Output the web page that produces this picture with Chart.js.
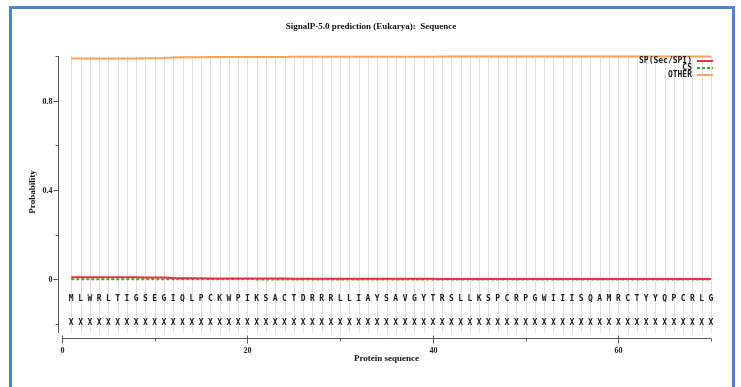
<!DOCTYPE html>
<html>
<head>
<meta charset="utf-8">
<script src="https://cdn.jsdelivr.net/npm/chart.js@4/dist/chart.umd.min.js"></script>
<style>
  html, body { margin: 0; padding: 0; background: #fff; }
  #wrap { position: relative; width: 741px; height: 387px; overflow: hidden; }
  #frame { position: absolute; left: 9px; top: 6px; width: 720px; height: 400px;
           border: 3px solid #4f83cc; border-bottom: none; pointer-events: none; }
</style>
</head>
<body>
<div id="wrap">
  <canvas id="myChart"></canvas>
  <div id="frame"></div>
</div>
<script>
  // Sequence + predictions (one value per residue)
  const residues = 'MLWRLTIGSEGIQLPCKWPIKSACTDRRRLLIAYSAVGYTRSLLKSPCRPGWIIISQAMRCTYYQPCRLG'.split('');
  const markers = residues.map(() => 'X');

  const sp = [
    0.010, 0.010, 0.010, 0.010, 0.010, 0.010, 0.010, 0.010, 0.009, 0.009,
    0.008, 0.006, 0.005, 0.005, 0.005, 0.004, 0.004, 0.004, 0.004, 0.004,
    0.004, 0.004, 0.004, 0.004, 0.003, 0.003, 0.003, 0.003, 0.003, 0.003,
    0.003, 0.003, 0.003, 0.003, 0.003, 0.003, 0.003, 0.003, 0.003, 0.003,
    0.002, 0.002, 0.002, 0.002, 0.002, 0.002, 0.002, 0.002, 0.002, 0.002,
    0.002, 0.002, 0.002, 0.002, 0.002, 0.002, 0.002, 0.002, 0.002, 0.002,
    0.002, 0.002, 0.002, 0.002, 0.002, 0.002, 0.002, 0.002, 0.002, 0.002
  ];
  const cs = [
    0.001, 0.001, 0.001, 0.001, 0.001, 0.001, 0.001, 0.001, 0.001, 0.001,
    0.001, 0.001, 0.001, 0.001, 0.001, 0.001, 0.001, 0.001, 0.001, 0.001,
    0.000, 0.000, 0.000, 0.000, 0.000, 0.000, 0.000, 0.000, 0.000, 0.000,
    0.000, 0.000, 0.000, 0.000, 0.000, 0.000, 0.000, 0.000, 0.000, 0.000,
    0.000, 0.000, 0.000, 0.000, 0.000, 0.000, 0.000, 0.000, 0.000, 0.000,
    0.000, 0.000, 0.000, 0.000, 0.000, 0.000, 0.000, 0.000, 0.000, 0.000,
    0.000, 0.000, 0.000, 0.000, 0.000, 0.000, 0.000, 0.000, 0.000, 0.000
  ];
  const other = [
    0.989, 0.989, 0.989, 0.989, 0.989, 0.989, 0.989, 0.989, 0.990, 0.990,
    0.991, 0.993, 0.994, 0.994, 0.994, 0.995, 0.995, 0.995, 0.995, 0.995,
    0.996, 0.996, 0.996, 0.996, 0.997, 0.997, 0.997, 0.997, 0.997, 0.997,
    0.997, 0.997, 0.997, 0.997, 0.997, 0.997, 0.997, 0.997, 0.997, 0.997,
    0.998, 0.998, 0.998, 0.998, 0.998, 0.998, 0.998, 0.998, 0.998, 0.998,
    0.998, 0.998, 0.998, 0.998, 0.998, 0.998, 0.998, 0.998, 0.998, 0.998,
    0.998, 0.998, 0.998, 0.998, 0.998, 0.998, 0.998, 0.998, 0.998, 0.998
  ];

  const xTicks = [0, 20, 40, 60];
  const xMinor = [10, 30, 50, 70];
  const yTicks = [0, 0.4, 0.8];
  const yMinor = [-0.2, 0.2, 0.6, 1.0];

  const seriesNames = ['SP(Sec/SPI)', 'CS', 'OTHER'];
  const seriesColors = ['#e8323c', '#3aa83a', '#f6a461'];

  const toPoints = arr => arr.map((v, i) => ({ x: i + 1, y: v }));

  const serif = '"Liberation Serif", "DejaVu Serif", serif';
  const mono = '"DejaVu Sans Mono", "Liberation Mono", monospace';

  // gridlines, axes, labels, residue rows
  const decor = {
    id: 'decor',
    beforeDatasetsDraw(chart) {
      const { ctx, scales: { x, y } } = chart;
      ctx.save();
      ctx.strokeStyle = '#dedede';
      ctx.lineWidth = 1;
      residues.forEach((r, i) => {
        const px = Math.round(x.getPixelForValue(i + 1)) + 0.5;
        ctx.beginPath();
        ctx.moveTo(px, y.getPixelForValue(1.0));
        ctx.lineTo(px, y.getPixelForValue(-0.24));
        ctx.stroke();
      });
      ctx.restore();
    },
    afterDraw(chart) {
      const { ctx, scales: { x, y } } = chart;
      ctx.save();
      ctx.strokeStyle = '#5a5a5a';
      ctx.fillStyle = '#222';
      ctx.lineWidth = 1;

      // y axis (offset to the left)
      const ax = Math.round(x.getPixelForValue(0)) - 4 + 0.5;
      ctx.beginPath();
      ctx.moveTo(ax, y.getPixelForValue(1.0));
      ctx.lineTo(ax, y.getPixelForValue(-0.24));
      ctx.stroke();
      ctx.font = 'bold 8px ' + serif;
      ctx.textAlign = 'right';
      ctx.textBaseline = 'middle';
      yTicks.forEach(v => {
        const py = Math.round(y.getPixelForValue(v)) + 0.5;
        ctx.beginPath(); ctx.moveTo(ax - 5, py); ctx.lineTo(ax, py); ctx.stroke();
        ctx.fillText(v === 0 ? '0' : v.toFixed(1), ax - 6, py);
      });
      yMinor.forEach(v => {
        const py = Math.round(y.getPixelForValue(v)) + 0.5;
        ctx.beginPath(); ctx.moveTo(ax - 3, py); ctx.lineTo(ax, py); ctx.stroke();
      });

      // x axis (offset below)
      const ay = Math.round(y.getPixelForValue(-0.24)) + 5 + 0.5;
      ctx.beginPath();
      ctx.moveTo(x.getPixelForValue(0), ay);
      ctx.lineTo(x.getPixelForValue(70), ay);
      ctx.stroke();
      ctx.textAlign = 'center';
      ctx.textBaseline = 'top';
      xTicks.forEach(v => {
        const px = Math.round(x.getPixelForValue(v)) + 0.5;
        ctx.beginPath(); ctx.moveTo(px, ay - 3); ctx.lineTo(px, ay + 5); ctx.stroke();
        ctx.fillText(String(v), px, ay + 8);
      });
      xMinor.forEach(v => {
        const px = Math.round(x.getPixelForValue(v)) + 0.5;
        ctx.beginPath(); ctx.moveTo(px, ay); ctx.lineTo(px, ay + 3); ctx.stroke();
      });

      // axis titles
      ctx.fillStyle = '#111';
      ctx.font = 'bold 9px ' + serif;
      ctx.fillText('Protein sequence', (x.left + x.right) / 2, ay + 16);
      ctx.save();
      ctx.translate(33, 192);
      ctx.rotate(-Math.PI / 2);
      ctx.textBaseline = 'middle';
      ctx.fillText('Probability', 0, 0);
      ctx.restore();
      ctx.textBaseline = 'middle';
      ctx.fillText('SignalP-5.0 prediction (Eukarya):  Sequence', 371, 27);

      // residue rows
      ctx.font = 'bold 8px ' + mono;
      ctx.fillStyle = '#1a1a1a';
      residues.forEach((r, i) => {
        const px = x.getPixelForValue(i + 1);
        ctx.fillText(r, px, y.getPixelForValue(-0.088));
        ctx.fillText(markers[i], px, y.getPixelForValue(-0.193));
      });

      // legend
      ctx.textAlign = 'right';
      seriesNames.forEach((name, i) => {
        const ly = y.getPixelForValue(1.0) + 5 + i * 7;
        ctx.fillStyle = '#1a1a1a';
        ctx.fillText(name, 692, ly);
        ctx.strokeStyle = seriesColors[i];
        ctx.lineWidth = 2;
        ctx.setLineDash(i === 1 ? [3, 2] : []);
        ctx.beginPath(); ctx.moveTo(697, ly); ctx.lineTo(713, ly); ctx.stroke();
        ctx.setLineDash([]);
      });
      ctx.restore();
    }
  };

  const config = {
    type: 'line',
    data: {
      datasets: [
        { label: seriesNames[0], data: toPoints(sp), borderColor: seriesColors[0], borderWidth: 2 },
        { label: seriesNames[1], data: toPoints(cs), borderColor: seriesColors[1], borderWidth: 2, borderDash: [3, 2] },
        { label: seriesNames[2], data: toPoints(other), borderColor: seriesColors[2], borderWidth: 2 }
      ]
    },
    options: {
      responsive: true,
      maintainAspectRatio: false,
      animation: false,
      layout: { padding: { left: 62, right: 30, top: 56, bottom: 54 } },
      elements: { point: { radius: 0 }, line: { tension: 0 } },
      datasets: { line: { clip: false } },
      plugins: { legend: { display: false }, title: { display: false }, tooltip: { enabled: false } },
      scales: {
        x: { type: 'linear', min: 0, max: 70, display: false },
        y: { type: 'linear', min: -0.24, max: 1.0, display: false }
      }
    },
    plugins: [decor]
  };

  new Chart(document.getElementById('myChart'), config);
</script>
</body>
</html>
